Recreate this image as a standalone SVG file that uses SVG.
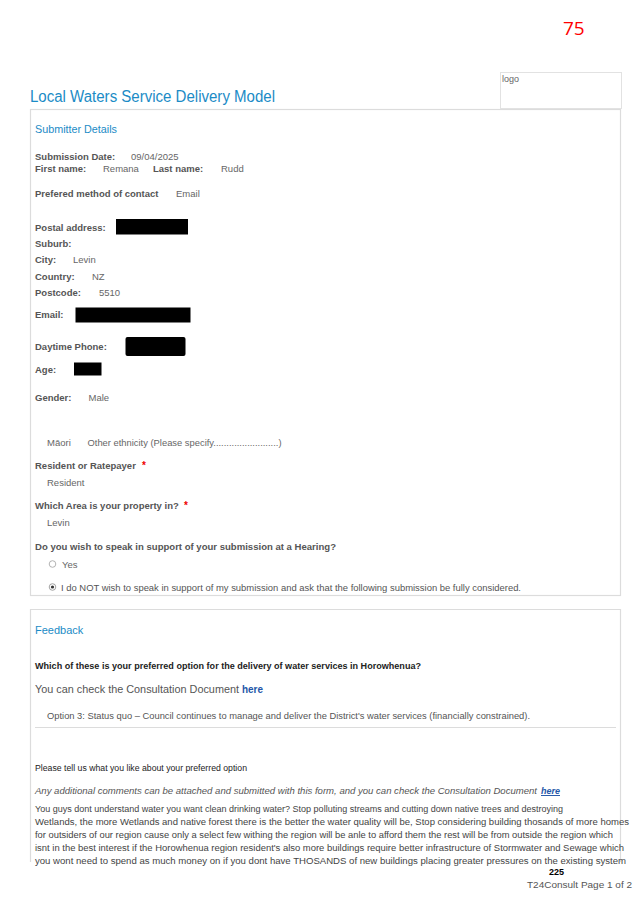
<svg xmlns="http://www.w3.org/2000/svg" width="638" height="902" viewBox="0 0 638 902">
<style>
text{font-family:"Liberation Sans",Arial,sans-serif}
.lbl{font-size:9.5px;font-weight:bold;fill:#555}
.val{font-size:9.5px;fill:#666}
.hd{font-size:11px;fill:#1b8bc6}
.box{fill:#fff;stroke:#dcdcdc;stroke-width:1.2}
.red{fill:#000}
.star{font-size:10px;fill:#e00;font-weight:bold}
.para{font-size:9.6px;fill:#444}
</style>
<rect width="638" height="902" fill="#fff"/>
<g id="page-number"><text x="563" y="35" font-size="19" fill="#f00" style="font-family:'Open Sans','Liberation Sans',sans-serif">75</text></g>
<g id="logo"><rect x="500.5" y="72.5" width="121" height="36" fill="#fff" stroke="#e2e2e2"/><text x="502" y="82" font-size="9" fill="#666">logo</text></g>
<g id="title"><text x="30" y="102" font-size="16" fill="#1b8bc6" textLength="245" lengthAdjust="spacingAndGlyphs">Local Waters Service Delivery Model</text></g>
<g id="submitter-details">
<rect class="box" x="30.5" y="109.5" width="590" height="486"/>
<text class="hd" x="35" y="133" textLength="82" lengthAdjust="spacingAndGlyphs">Submitter Details</text>
<text class="lbl" x="35" y="159.5">Submission Date:</text><text class="val" x="131" y="159.5">09/04/2025</text>
<text class="lbl" x="35" y="172">First name:</text><text class="val" x="103" y="172">Remana</text>
<text class="lbl" x="153" y="172">Last name:</text><text class="val" x="221" y="172">Rudd</text>
<text class="lbl" x="35" y="197">Prefered method of contact</text><text class="val" x="176" y="197">Email</text>
<text class="lbl" x="35" y="231">Postal address:</text><rect class="red" x="116" y="219" width="72" height="15.5"/>
<text class="lbl" x="35" y="247">Suburb:</text>
<text class="lbl" x="35" y="263">City:</text><text class="val" x="73" y="263">Levin</text>
<text class="lbl" x="35" y="279.5">Country:</text><text class="val" x="92" y="279.5">NZ</text>
<text class="lbl" x="35" y="296">Postcode:</text><text class="val" x="99" y="296">5510</text>
<text class="lbl" x="35" y="317.5">Email:</text><rect class="red" x="75.5" y="307.5" width="115" height="15"/>
<text class="lbl" x="35" y="349.5">Daytime Phone:</text><rect class="red" x="125.5" y="337" width="60" height="19" rx="2"/>
<text class="lbl" x="35" y="372.5">Age:</text><rect class="red" x="74" y="362.5" width="27.5" height="13"/>
<text class="lbl" x="35" y="401">Gender:</text><text class="val" x="88.5" y="401">Male</text>
<text class="val" x="47" y="445.5">Māori</text><text class="val" x="87.5" y="445.5" textLength="194" lengthAdjust="spacingAndGlyphs">Other ethnicity (Please specify.........................)</text>
<text class="lbl" x="35" y="469">Resident or Ratepayer</text><text class="star" x="142" y="469">*</text>
<text class="val" x="47" y="485.5">Resident</text>
<text class="lbl" x="35" y="509">Which Area is your property in?</text><text class="star" x="184" y="509">*</text>
<text class="val" x="47" y="526">Levin</text>
<text class="lbl" x="35" y="549.5" textLength="301" lengthAdjust="spacingAndGlyphs">Do you wish to speak in support of your submission at a Hearing?</text>
<circle cx="52.5" cy="564" r="3.3" fill="#fff" stroke="#aaa" stroke-width="0.9"/>
<text class="val" x="62" y="567.5">Yes</text>
<circle cx="52.5" cy="587" r="3.3" fill="#fff" stroke="#999" stroke-width="0.9"/><circle cx="52.5" cy="587" r="1.6" fill="#333"/>
<text x="61" y="590.5" font-size="9" fill="#555" textLength="460" lengthAdjust="spacingAndGlyphs">I do NOT wish to speak in support of my submission and ask that the following submission be fully considered.</text>
</g>
<g id="feedback">
<path d="M30.5,862 V609.5 H620.5 V862" fill="#fff" stroke="#dcdcdc" stroke-width="1.2"/>
<text class="hd" x="35" y="634">Feedback</text>
<text x="35" y="668.5" font-size="9" font-weight="bold" fill="#222" textLength="386" lengthAdjust="spacingAndGlyphs">Which of these is your preferred option for the delivery of water services in Horowhenua?</text>
<text x="35" y="693" font-size="11" fill="#555" textLength="204" lengthAdjust="spacingAndGlyphs">You can check the Consultation Document</text>
<text x="242" y="693" font-size="10.5" font-weight="bold" fill="#2356a8" textLength="21" lengthAdjust="spacingAndGlyphs">here</text>
<text x="47" y="719" font-size="9" fill="#555" textLength="483" lengthAdjust="spacingAndGlyphs">Option 3: Status quo – Council continues to manage and deliver the District's water services (financially constrained).</text>
<line x1="35" y1="727.5" x2="616" y2="727.5" stroke="#dcdcdc" stroke-width="1.2"/>
<text x="35" y="771" font-size="8.3" fill="#222" textLength="212" lengthAdjust="spacingAndGlyphs">Please tell us what you like about your preferred option</text>
<text x="35" y="794" font-size="9.6" font-style="italic" fill="#555" textLength="502" lengthAdjust="spacingAndGlyphs">Any additional comments can be attached and submitted with this form, and you can check the Consultation Document</text>
<text x="541" y="794" font-size="9.6" font-style="italic" font-weight="bold" fill="#2356a8" text-decoration="underline" textLength="19" lengthAdjust="spacingAndGlyphs">here</text>
<text class="para" x="35" y="811.5" textLength="528" lengthAdjust="spacingAndGlyphs">You guys dont understand water you want clean drinking water? Stop polluting streams and cutting down native trees and destroying</text>
<text class="para" x="35" y="824.5" textLength="594" lengthAdjust="spacingAndGlyphs">Wetlands, the more Wetlands and native forest there is the better the water quality will be, Stop considering building thosands of more homes</text>
<text class="para" x="35" y="837.5" textLength="578" lengthAdjust="spacingAndGlyphs">for outsiders of our region cause only a select few withing the region will be anle to afford them the rest will be from outside the region which</text>
<text class="para" x="35" y="850.5" textLength="589" lengthAdjust="spacingAndGlyphs">isnt in the best interest if the Horowhenua region resident's also more buildings require better infrastructure of Stormwater and Sewage which</text>
<text class="para" x="35" y="863.5" textLength="591" lengthAdjust="spacingAndGlyphs">you wont need to spend as much money on if you dont have THOSANDS of new buildings placing greater pressures on the existing system</text>
</g>
<g id="footer">
<text x="549" y="874.5" font-size="9" font-weight="bold" fill="#000">225</text>
<text x="527" y="888" font-size="9" fill="#555" textLength="105" lengthAdjust="spacingAndGlyphs">T24Consult  Page 1 of 2</text>
</g>
</svg>
